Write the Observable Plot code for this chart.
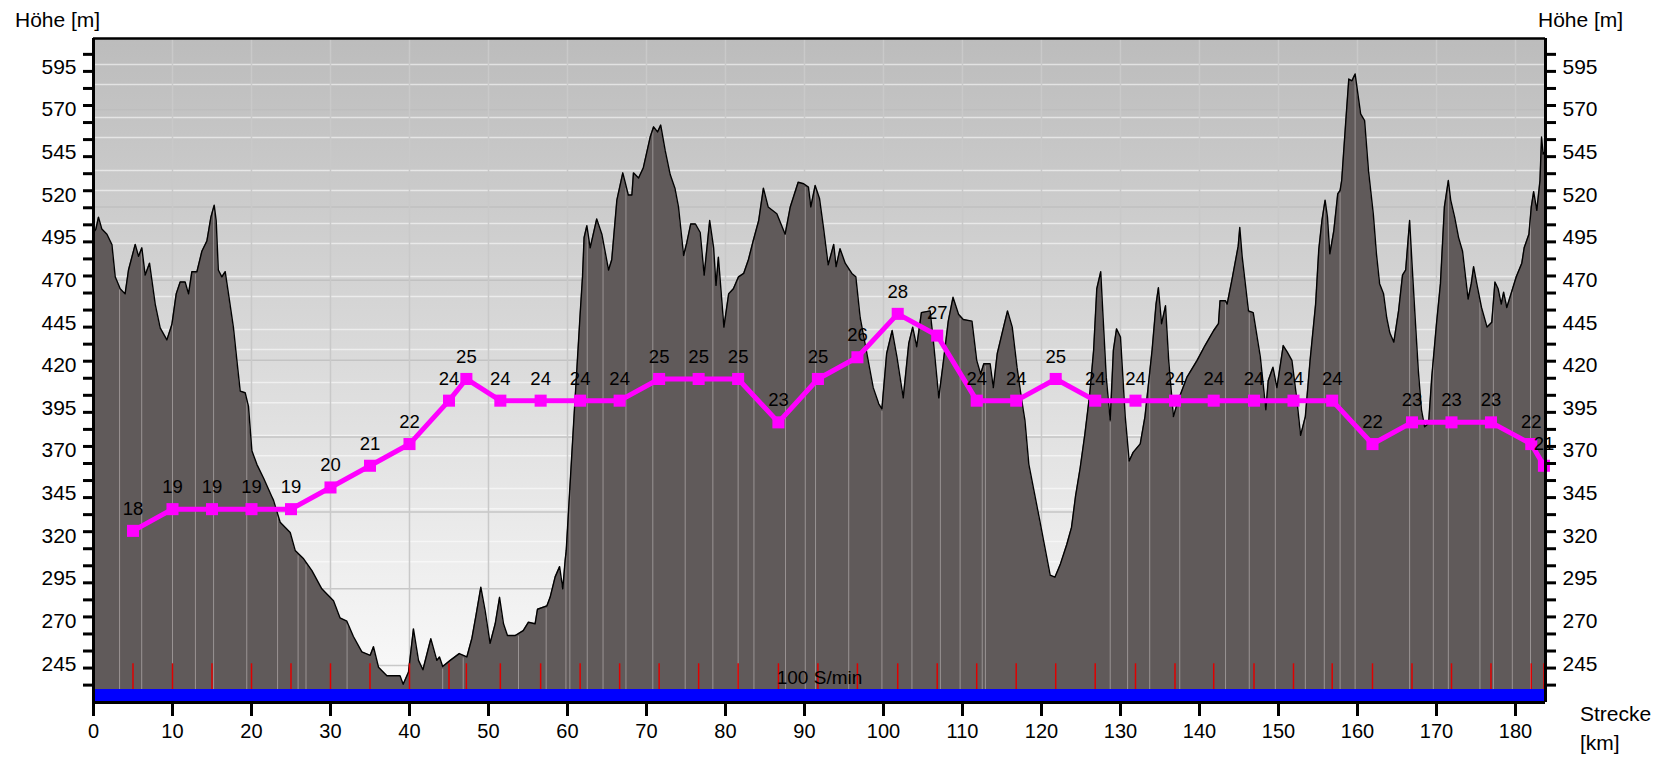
<!DOCTYPE html>
<html><head><meta charset="utf-8">
<script src="https://cdn.jsdelivr.net/npm/d3@7"></script>
<script src="https://cdn.jsdelivr.net/npm/@observablehq/plot@0.6"></script>
<style>html,body{margin:0;padding:0;background:#fff;overflow:hidden} svg{display:block}</style>
</head><body><div id="chart"></div>
<script>
// Elevation profile: [km, m]
const profile = [
[0,498],[0.3,500],[0.63,507],[1.06,500],[1.7,497],[2.33,491],[2.75,472],[3.38,465],[4.0,462],[4.43,476],
[5.28,491],[5.7,484],[6.12,489],[6.54,473],[7.09,480],[7.81,456],[8.44,442],[9.29,435],[9.92,444],[10.47,462],
[10.97,469],[11.6,469],[12.03,462],[12.45,475],[13.09,475],[13.72,487],[14.35,493],[14.86,507],[15.28,514],[15.53,505],
[15.8,476],[16.25,472],[16.67,475],[17.09,462],[17.72,442],[18.15,423],[18.57,405],[19.2,404],[19.62,396],[20.05,370],
[20.68,362],[21.52,354],[22.58,343],[22.78,341],[23.63,328],[24.9,322],[25.53,311.5],[26.6,306.6],[27.65,299.7],[28.9,289],
[30.38,282],[31.2,272],[32.07,270],[32.9,261],[33.97,252],[35.03,250],[35.44,255],[36.08,243],[37.14,238],[38.4,238],
[38.8,238],[39.2,233],[39.87,240],[40.5,265.5],[41.14,247],[41.7,241.5],[42.7,259.7],[43.46,247],[43.8,249],[44.2,243.4],
[45.15,247],[46.3,251],[47.26,249],[47.9,260],[48.44,274],[49.03,290],[49.58,276],[50.2,257],[50.85,268.5],[51.4,284],
[51.9,268.5],[52.4,261.6],[53.4,261.6],[54.4,264.5],[55.06,269.4],[55.9,268.5],[56.2,277],[57.4,279],[57.8,284],[58.44,296],
[59.0,302],[59.4,289],[59.7,305.6],[59.84,311.5],[60.85,392],[61.2,419],[61.6,450],[61.9,472],[62.1,495],[62.45,502],
[62.87,489],[63.7,506],[64.35,497],[65.2,476],[65.6,482],[66.25,517],[67.0,533],[67.7,520],[68.15,520],[68.35,533],
[69.0,530],[69.6,536],[70.47,554],[70.9,560],[71.4,557],[71.8,561],[72.37,546],[73.0,532],[73.6,524],[74.05,513],
[74.7,484.5],[75.1,492],[75.6,503],[76.2,503],[76.8,498],[77.3,473],[78.0,505],[78.5,489],[78.8,467],[79.1,483.5],
[79.8,442.5],[80.4,462],[81.0,465],[81.65,472],[82.3,474],[82.9,482],[83.5,493],[84.2,505],[84.8,524],[85.4,513],
[86.5,509],[87.55,497],[88.2,513],[89.2,527.5],[89.9,526.6],[90.5,524.6],[90.8,513],[91.35,525.6],[91.9,518],[92.4,501],
[93.0,479],[93.7,491],[94.0,478],[94.5,488.5],[95.15,480],[96.0,474],[96.5,472],[97.05,448],[97.9,427],[98.7,407],
[99.4,397.5],[99.8,394.6],[100.4,427],[101.1,440.5],[101.7,425],[102.5,401],[103.2,433],[103.7,442.5],[104.2,431],[104.8,451],
[105.9,452],[106.3,435],[107.0,401],[107.6,423],[108.2,446],[108.8,460],[109.5,450],[110.1,447],[111.2,446],[111.8,423],
[112.3,415],[112.7,421],[113.5,421],[113.9,407],[114.4,427],[115.2,442.5],[115.7,452],[116.3,442.5],[116.9,419],[117.5,399.5],
[117.9,388],[118.4,362],[119.7,331],[121.1,297],[121.7,295.8],[122.4,303.6],[123.2,315],[123.8,325],[124.3,343],[124.9,360],
[125.5,380],[126.1,403],[126.6,429],[127.0,465],[127.5,475],[127.8,448],[128.2,413],[128.7,388],[129.1,429],[129.5,441.5],
[130.0,436.6],[130.6,390],[131.1,364],[131.6,369],[132.5,374],[133.1,390],[134.0,429],[134.5,456],[134.8,465.6],[135.2,444.5],
[135.7,455],[136.1,423],[136.7,390],[137.3,399.5],[138.4,413],[139.7,423],[140.7,431.7],[141.8,440.5],[142.4,444.5],[142.6,458],
[143.3,458],[143.5,456],[144.1,470],[144.5,480],[144.9,490],[145.1,501],[145.4,484],[146.2,452],[146.8,451],[147.7,425],
[148.4,394],[148.7,411],[149.3,419],[149.8,407],[150.6,431.7],[151.1,428],[151.7,423],[152.3,401],[152.8,379],[153.4,390],
[154.0,423],[154.7,456],[155.1,488],[155.5,505],[155.9,517],[156.2,507],[156.5,485.5],[157.0,499],[157.5,520.7],[157.8,522.7],
[158.0,528.5],[158.5,562],[158.9,588],[159.3,587],[159.7,591],[160.4,567.6],[160.9,563.7],[161.4,534],[162.0,509],[162.4,485.5],
[162.8,468],[163.3,462],[163.7,448],[164.1,439],[164.6,433.7],[165.2,452],[165.7,473],[166.1,476],[166.6,505],[166.9,480],
[167.3,448],[167.7,417],[168.1,394],[168.5,384],[169.0,386],[169.4,413],[170.0,444.5],[170.5,468],[171.0,513],[171.5,528.5],
[171.8,517],[172.3,507],[172.8,495],[173.3,487],[174.0,459],[174.4,468],[174.7,478],[175.1,468],[175.7,454],[176.4,442.5],
[177.0,445.4],[177.4,469],[177.8,465],[178.2,456],[178.5,463],[178.9,454],[179.5,463],[180.1,472],[180.8,480],[181.1,489],
[181.7,497],[182.0,513],[182.3,522],[182.7,511],[183.1,528.5],[183.3,554],[183.5,544],[183.8,546]
];
// Second series (labelled values) at lap points
const lapKm  = [5,10,15,20,25,30,35,40,45,47.2,51.5,56.6,61.6,66.6,71.6,76.6,81.6,86.7,91.7,96.7,101.8,106.8,111.8,116.8,121.8,126.8,131.9,136.9,141.8,146.9,151.9,156.8,161.9,166.9,171.9,176.9,182.0,183.6];
const lapVal = [18,19,19,19,19,20,21,22,24,25,24,24,24,24,25,25,25,23,25,26,28,27,24,24,25,24,24,24,24,24,24,24,22,23,23,23,22,21];
// thin marker lines inside the profile
const markerKm = [3.3,6.1,10.0,12.9,15.2,19.4,23.3,25.9,26.9,32.1,44.2,46.8,53.8,57.3,59.8,60.3,62.5,64.5,67.4,70.8,74.9,78.4,81.6,83.6,87.6,90.1,91.4,95.6,99.8,103.6,107.2,109.7,112.5,112.9,128.7,130.9,133.7,137.5,143.3,146.3,149.6,153.4,155.8,157.8,159.7,166.6,169.6,171.5,175.5,177.2,179.6,181.9];
const xTicks = [0,10,20,30,40,50,60,70,80,90,100,110,120,130,140,150,160,170,180];
const yLabels = [245,270,295,320,345,370,395,420,445,470,495,520,545,570,595];
const yMinor = [232.5,242.5,252.5,262.5,272.5,282.5,292.5,302.5,312.5,322.5,332.5,342.5,352.5,362.5,372.5,382.5,392.5,402.5,412.5,422.5,432.5,442.5,452.5,462.5,472.5,482.5,492.5,502.5,512.5,522.5,532.5,542.5,552.5,562.5,572.5,582.5,592.5,602.5];
const grayGrid = [244,289,334,378,423,470,513,570,609];
const whiteGrid = [596.6,584.8,565.5,553.7,534.4,522.6,503.3,491.5,472.2,460.4,441.1,429.3,410,398.2,378.9,367.1,347.8,336,316.7,304.9];
const bandText = "100 S/min";
const yTitle = "Höhe [m]", xTitle1 = "Strecke", xTitle2 = "[km]";

const X0 = 0, X1 = 183.8, Y0 = 222.3, Y1 = 611.8;
const S0 = 10.09, S1 = 40.69;           // range of the second series over the frame
const BAR_TOP = 229.9, RED_TOP = 245;
const toElev = v => Y0 + (v - S0) / (S1 - S0) * (Y1 - Y0);

const prof = profile.map(([km, e]) => ({km, e}));
const bis = d3.bisector(d => d.km).left;
function elevAt(k) {
  const i = bis(prof, k);
  if (i <= 0) return prof[0].e;
  if (i >= prof.length) return prof[prof.length - 1].e;
  const a = prof[i - 1], b = prof[i];
  return a.e + (b.e - a.e) * (k - a.km) / (b.km - a.km);
}
const laps = lapKm.map((km, i) => ({km, v: lapVal[i], y: toElev(lapVal[i])}));

const FONT = "'Liberation Sans', Arial, Helvetica, sans-serif";
const svg = Plot.plot({
  width: 1662, height: 759,
  marginLeft: 93, marginRight: 117, marginTop: 38, marginBottom: 57,
  x: {domain: [X0, X1], label: null},
  y: {domain: [Y0, Y1], label: null},
  style: {fontFamily: FONT, fontSize: "21px", color: "black", background: "white"},
  marks: [
    Plot.frame({fill: "url(#bgGrad)"}),
    Plot.ruleY(whiteGrid, {stroke: "white", strokeOpacity: 0.55, strokeWidth: 1.5}),
    Plot.ruleY(grayGrid, {stroke: "#bdbdbd", strokeOpacity: 0.8, strokeWidth: 1.5}),
    Plot.ruleX(xTicks, {stroke: "#c9c9c9", strokeWidth: 1.5}),
    Plot.areaY(prof, {x: "km", y1: Y0, y2: "e", fill: "#605a5a", curve: "linear"}),
    Plot.ruleX(markerKm, {x: d => d, y1: Y0, y2: d => elevAt(d) - 1.5, stroke: "#9a9494", strokeWidth: 1}),
    Plot.lineY(prof, {x: "km", y: "e", stroke: "black", strokeWidth: 1.4}),
    Plot.ruleX(lapKm, {x: d => d, y1: BAR_TOP, y2: RED_TOP, stroke: "#e00000", strokeWidth: 1.5}),
    Plot.rect([0], {x1: X0, x2: X1, y1: Y0, y2: BAR_TOP, fill: "#0000ff"}),
    Plot.text([bandText], {x: (X0 + X1) / 2, y: 236.6, text: d => d, fontSize: 19, fill: "black"}),
    Plot.line(laps, {x: "km", y: "y", stroke: "#ff00ff", strokeWidth: 5}),
    Plot.dot(laps, {x: "km", y: "y", symbol: "square", r: 6.8, fill: "#ff00ff", stroke: null}),
    Plot.text(laps, {x: "km", y: "y", text: d => String(d.v), dy: -22, fontSize: 18.5, fill: "black"}),
    Plot.ruleY([Y0], {stroke: "black", strokeWidth: 3}),
    Plot.ruleY([Y1], {stroke: "black", strokeWidth: 2.5}),
    Plot.ruleX([X0, X1], {stroke: "black", strokeWidth: 3}),
    Plot.axisY(yMinor, {anchor: "left", tickSize: 10, strokeWidth: 3, tickFormat: () => "", label: null}),
    Plot.axisY(yMinor, {anchor: "right", tickSize: 10, strokeWidth: 3, tickFormat: () => "", label: null}),
    Plot.axisY(yLabels, {anchor: "left", tickSize: 0, tickPadding: 17, fontSize: 21, label: null}),
    Plot.axisY(yLabels, {anchor: "right", tickSize: 0, tickPadding: 17, fontSize: 21, label: null}),
    Plot.axisX(xTicks, {anchor: "bottom", tickSize: 14, tickPadding: 7, strokeWidth: 3, fontSize: 20, label: null})
  ]
});

const s = d3.select(svg);
const defs = s.insert("defs", ":first-child");
const g = defs.append("linearGradient").attr("id", "bgGrad").attr("x1", 0).attr("y1", 0).attr("x2", 0).attr("y2", 1);
g.append("stop").attr("offset", "0%").attr("stop-color", "#bcbcbc");
g.append("stop").attr("offset", "100%").attr("stop-color", "#fbfbfb");

const addText = (x, y, t, anchor) => s.append("text").attr("x", x).attr("y", y)
  .attr("font-family", FONT).attr("font-size", 21).attr("fill", "black")
  .attr("text-anchor", anchor || "start").text(t);
addText(15, 27, yTitle);
addText(1538, 27, yTitle);
addText(1580, 721, xTitle1);
addText(1580, 750, xTitle2);

document.getElementById("chart").appendChild(svg);
</script></body></html>
